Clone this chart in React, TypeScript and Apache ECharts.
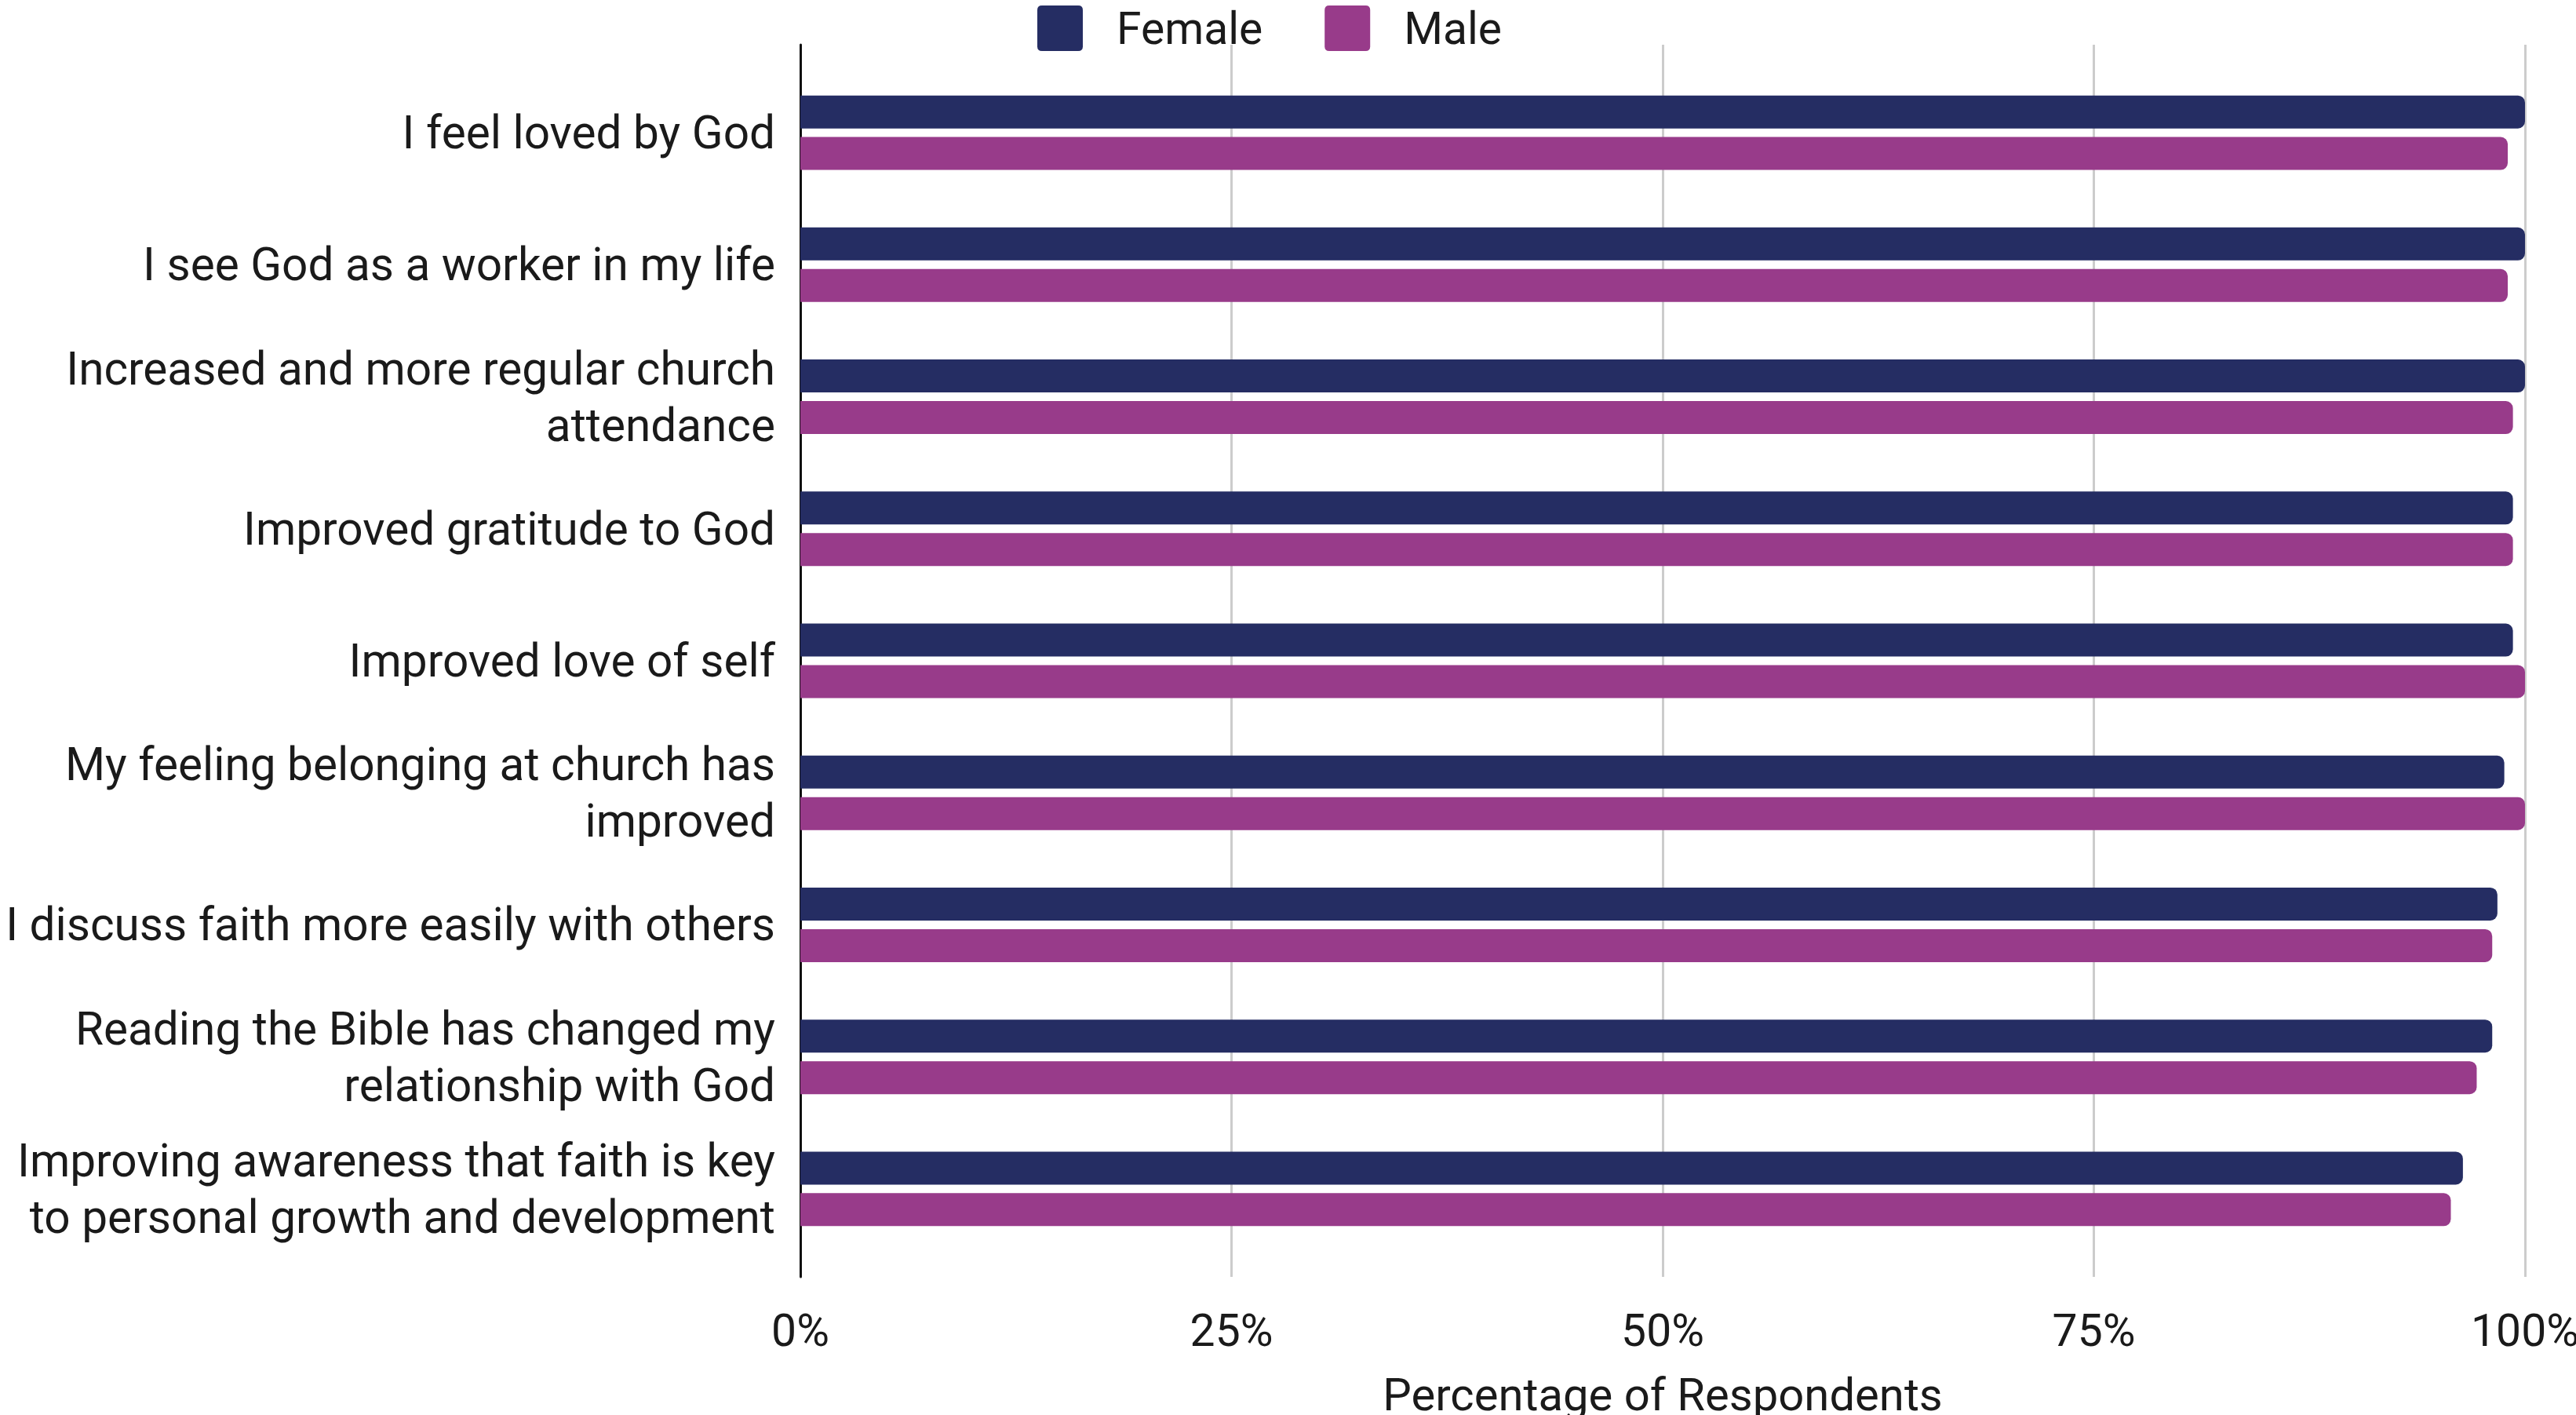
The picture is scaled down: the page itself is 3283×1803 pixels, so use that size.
import React, { useEffect, useRef } from "react";
import * as echarts from "echarts";

const categories: string[] = [
  "I feel loved by God",
  "I see God as a worker in my life",
  "Increased and more regular church\nattendance",
  "Improved gratitude to God",
  "Improved love of self",
  "My feeling belonging at church has\nimproved",
  "I discuss faith more easily with others",
  "Reading the Bible has changed my\nrelationship with God",
  "Improving awareness that faith is key\nto personal growth and development",
];

const femaleValues: number[] = [100, 100, 100, 99.3, 99.3, 98.8, 98.4, 98.1, 96.4];
const maleValues: number[] = [99.0, 99.0, 99.3, 99.3, 100, 100, 98.1, 97.2, 95.7];

const xTicks: number[] = [0, 25, 50, 75, 100];

const FEMALE_COLOR = "#252d63";
const MALE_COLOR = "#983b8a";
const FONT = "Roboto";
const ICON =
  "path://M2,0 H18 Q20,0 20,2 V18 Q20,20 18,20 H2 Q0,20 0,18 V2 Q0,0 2,0 Z";

export default function App() {
  const ref = useRef<HTMLDivElement>(null);

  useEffect(() => {
    if (!ref.current) return;
    const chart = echarts.init(ref.current, null, { renderer: "svg" });
    chart.setOption({
      animation: false,
      backgroundColor: "#ffffff",
      textStyle: { fontFamily: FONT },
      legend: {
        data: ["Female", "Male"],
        left: 1322,
        top: 7,
        padding: 0,
        itemWidth: 58,
        itemHeight: 58,
        itemGap: 79,
        icon: ICON,
        textStyle: {
          fontFamily: FONT,
          fontSize: 57,
          color: "#1a1a1a",
          padding: [0, 0, 0, 38],
        },
      },
      grid: [
        { left: 1020, right: 65, top: 57, bottom: 176, outerBoundsMode: "none", containLabel: false },
        { left: 1020, right: 65, top: 85, bottom: 204, outerBoundsMode: "none", containLabel: false },
      ],
      xAxis: [
        {
          gridIndex: 0,
          type: "value",
          min: xTicks[0],
          max: xTicks[xTicks.length - 1],
          interval: 25,
          axisLine: { show: false },
          axisTick: { show: false },
          splitLine: { show: true, lineStyle: { color: "#cccccc", width: 3 } },
          axisLabel: {
            formatter: "{value}%",
            fontFamily: FONT,
            fontSize: 57,
            color: "#1a1a1a",
            margin: 40,
          },
          name: "Percentage of Respondents",
          nameLocation: "middle",
          nameGap: 121,
          nameTextStyle: { fontFamily: FONT, fontSize: 58, color: "#1a1a1a" },
        },
        {
          gridIndex: 1,
          type: "value",
          min: 0,
          max: 100,
          show: false,
        },
      ],
      yAxis: [
        {
          gridIndex: 0,
          type: "value",
          min: 0,
          max: 1,
          axisLine: { show: true, lineStyle: { color: "#111111", width: 3 } },
          axisTick: { show: false },
          axisLabel: { show: false },
          splitLine: { show: false },
        },
        {
          gridIndex: 1,
          type: "category",
          data: categories,
          inverse: true,
          axisLine: { show: false },
          axisTick: { show: false },
          splitLine: { show: false },
          axisLabel: {
            fontFamily: FONT,
            fontSize: 58.5,
            lineHeight: 72,
            color: "#1a1a1a",
            margin: 32,
            align: "right",
            padding: [8, 0, 0, 0],
          },
        },
      ],
      series: [
        {
          name: "Female",
          type: "bar",
          xAxisIndex: 1,
          yAxisIndex: 1,
          data: femaleValues,
          barWidth: 42,
          barGap: "26%",
          itemStyle: { color: FEMALE_COLOR, borderRadius: [0, 9, 9, 0] },
        },
        {
          name: "Male",
          type: "bar",
          xAxisIndex: 1,
          yAxisIndex: 1,
          data: maleValues,
          barWidth: 42,
          barGap: "26%",
          itemStyle: { color: MALE_COLOR, borderRadius: [0, 9, 9, 0] },
        },
      ],
    });
    return () => chart.dispose();
  }, []);

  return (
    <div
      ref={ref}
      style={{ position: "fixed", left: 0, top: 0, width: 3283, height: 1803, background: "#fff" }}
    />
  );
}
